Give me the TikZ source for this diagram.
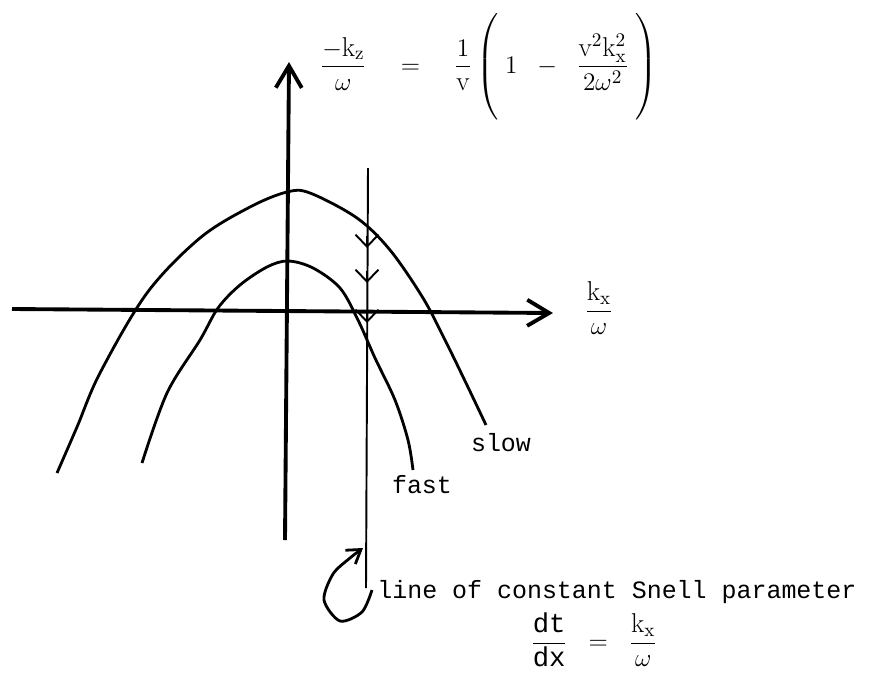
\documentclass[tikz,border=0pt]{standalone}
\usepackage{amsmath}
\usepackage{fontspec}
\setmonofont{Liberation Mono}
\usetikzlibrary{arrows.meta}

\begin{document}
\begin{tikzpicture}[x=0.02cm, y=-0.02cm, >={Straight Barb[length=0.44cm, width=0.52cm]},
    axis/.style={line width=2.2pt, ->},
    curve/.style={line width=1.6pt, smooth, tension=0.55},
    snell/.style={line width=1.1pt},
    chev/.style={line width=1.1pt, -{Straight Barb[length=0.24cm, width=0.46cm]}},
    hook/.style={line width=1.6pt, smooth, -{Straight Barb[length=0.26cm, width=0.34cm]}},
    lbl/.style={font=\fontsize{14.2}{17}\selectfont\ttfamily, inner sep=0pt},
    eqn/.style={font=\fontsize{15.5}{18}\selectfont, inner sep=0pt}]
    \useasboundingbox (0,0) rectangle (894,681);

    % Axes
    \coordinate (xs) at (12,309);
    \coordinate (xe) at (553,313);
    \coordinate (ys) at (285,540);
    \coordinate (ye) at (289,62);
    \draw [axis] (xs) -- (xe);
    \draw [axis] (ys) -- (ye);

    % Slow curve
    \draw [curve] plot coordinates {(57,473) (77,427) (100,373) (147,293) (200,238) (250,207) (287,192)
        (310,193) (357,218) (390,250) (423,298) (445,340) (466,383) (486,425)};

    % Fast curve
    \draw [curve] plot coordinates {(142,463) (167,393) (200,340) (218,308) (240,285) (267,267) (288,261)
        (313,268) (340,288) (358,320) (375,358) (395,400) (408,440) (413,470)};

    % Snell line
    \coordinate (st) at (368,168);
    \coordinate (sb) at (366,588);
    \draw [snell] (st) -- (sb);
    \foreach \y in {248, 283, 323}
        \draw [chev] (367,\y-12) -- (367,\y);
    \draw [hook] plot coordinates {(372,590) (362,612) (340,621) (324,600) (333,574) (350,558) (363,548)};

    % Labels
    \node [lbl] (slow) at (501,443) {slow};
    \node [lbl] (fast) at (422,485) {fast};
    \node [lbl, anchor=base west] (snelltxt) at (377,598) {line of constant Snell parameter};
    \node [eqn] (kxw) at (599,308) {$\dfrac{\mathrm{k}_{\mathrm{x}}}{\omega}$};
    \node [eqn] (disp) at (489,68) {$\dfrac{-\mathrm{k}_{\mathrm{z}}}{\omega}\quad=\quad\dfrac{1}{\mathrm{v}}
        \left(\vrule height 0.98cm depth 0.98cm width 0pt\;1\;\;-\;\;\dfrac{\mathrm{v}^{2}\mathrm{k}_{\mathrm{x}}^{2}}{2\omega^{2}}\;\right)$};
    \node [eqn] (slope) at (594,640) {$\dfrac{\texttt{dt}}{\texttt{dx}}\;\;=\;\;\dfrac{\mathrm{k}_{\mathrm{x}}}{\omega}$};
\end{tikzpicture}
\end{document}
